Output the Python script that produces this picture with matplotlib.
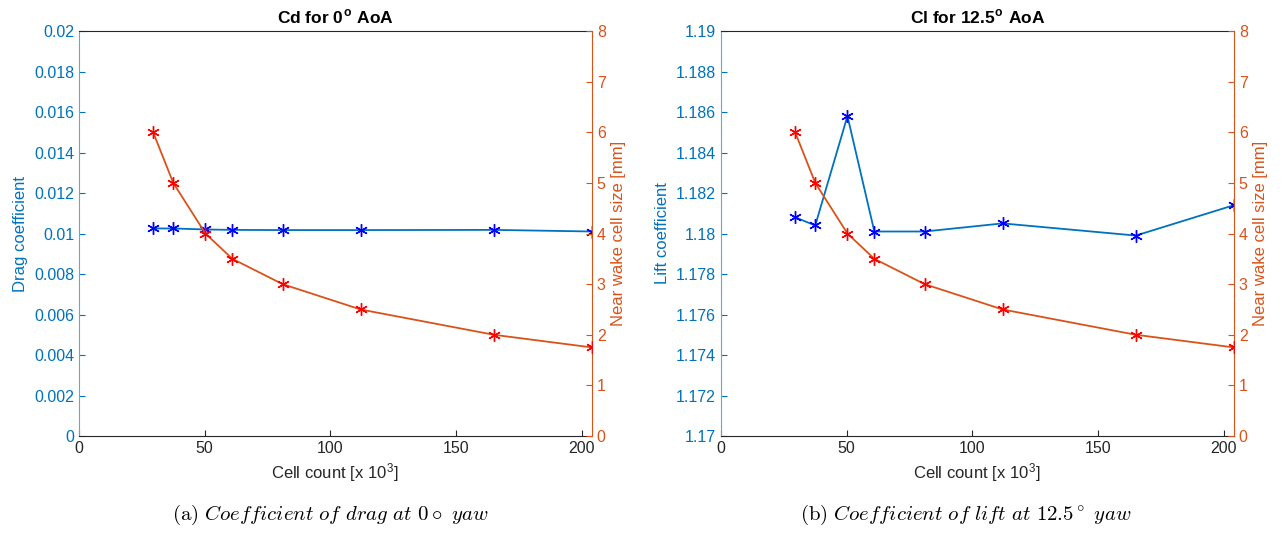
import matplotlib
matplotlib.use("Agg")
import matplotlib.pyplot as plt
import numpy as np

plt.rcParams['font.family'] = ['Liberation Sans', 'DejaVu Sans']
plt.rcParams['mathtext.fontset'] = 'cm'

# data
cells = [29.5, 37.5, 50.3, 61, 81, 112, 165, 204]
cell_size = [6, 5, 4, 3.5, 3, 2.5, 2, 1.75]
cd = [0.01025, 0.01025, 0.0102, 0.01018, 0.01017, 0.01017, 0.01018, 0.0101]
cl = [1.1808, 1.1804, 1.1858, 1.1801, 1.1801, 1.1805, 1.1799, 1.1814]

cd_ticks = np.round(np.arange(0, 0.0201, 0.002), 3)
cl_ticks = np.round(np.arange(1.17, 1.1901, 0.002), 3)
size_ticks = list(range(0, 9))
x_ticks = [0, 50, 100, 150, 200]

blue = '#0072BD'
orange = '#D95319'
grey = '#262626'
asterisk = (6, 2, 0)

fig = plt.figure(figsize=(12.84, 5.35), dpi=100)


def panel(pos, yvals, yticks, ylim, ylabel, title, caption, cx):
    ax = fig.add_axes(pos)
    ax.plot(cells, yvals, color=blue, lw=1.3, marker=asterisk, ms=9, mew=1,
            mec='blue', mfc='blue', zorder=3)
    ax.set_xlim(0, max(cells))
    ax.set_ylim(*ylim)
    ax.set_xticks(x_ticks)
    ax.set_yticks(yticks)
    ax.set_yticklabels(['%g' % t for t in yticks])
    ax.tick_params(direction='in', labelsize=11.5, length=4)
    ax.tick_params(axis='y', colors=blue)
    ax.tick_params(axis='x', colors=grey, labelcolor=grey)
    ax.spines['left'].set_color('#5fa8d8')
    ax.spines['bottom'].set_color(grey)
    ax.spines['top'].set_color(grey)
    ax.spines['right'].set_visible(False)
    ax.set_ylabel(ylabel, color=blue, fontsize=12)
    ax.set_xlabel(r'Cell count [x 10$^\mathregular{3}$]', color=grey, fontsize=12)
    ax.set_title(title, fontsize=12.5, fontweight='bold', pad=5)

    ax2 = ax.twinx()
    ax2.plot(cells, cell_size, color=orange, lw=1.3, marker=asterisk, ms=9, mew=1,
             mec='red', mfc='red', zorder=3)
    ax2.set_ylim(0, 8)
    ax2.set_yticks(size_ticks)
    ax2.tick_params(direction='in', labelsize=11.5, length=4, colors=orange)
    ax2.spines['right'].set_color(orange)
    ax2.spines['left'].set_visible(False)
    ax2.spines['top'].set_visible(False)
    ax2.spines['bottom'].set_visible(False)
    ax2.set_ylabel('Near wake cell size [mm]', color=orange, fontsize=12)

    fig.text(cx, 0.038, caption, ha='center', va='center', fontsize=15)
    return ax


panel([0.0615, 0.185, 0.3995, 0.757], cd, cd_ticks, (0, 0.02),
      'Drag coefficient', r'Cd for 0$^\mathregular{o}$ AoA',
      r'$\mathrm{(a)}\ \mathit{Coefficient\ of\ drag\ at}\ 0\circ\ \mathit{yaw}$', 0.257)
panel([0.5615, 0.185, 0.3995, 0.757], cl, cl_ticks, (1.17, 1.19),
      'Lift coefficient', r'Cl for 12.5$^\mathregular{o}$ AoA',
      r'$\mathrm{(b)}\ \mathit{Coefficient\ of\ lift\ at}\ 12.5^\circ\ \mathit{yaw}$', 0.752)

fig.savefig('out.png', dpi=100)
